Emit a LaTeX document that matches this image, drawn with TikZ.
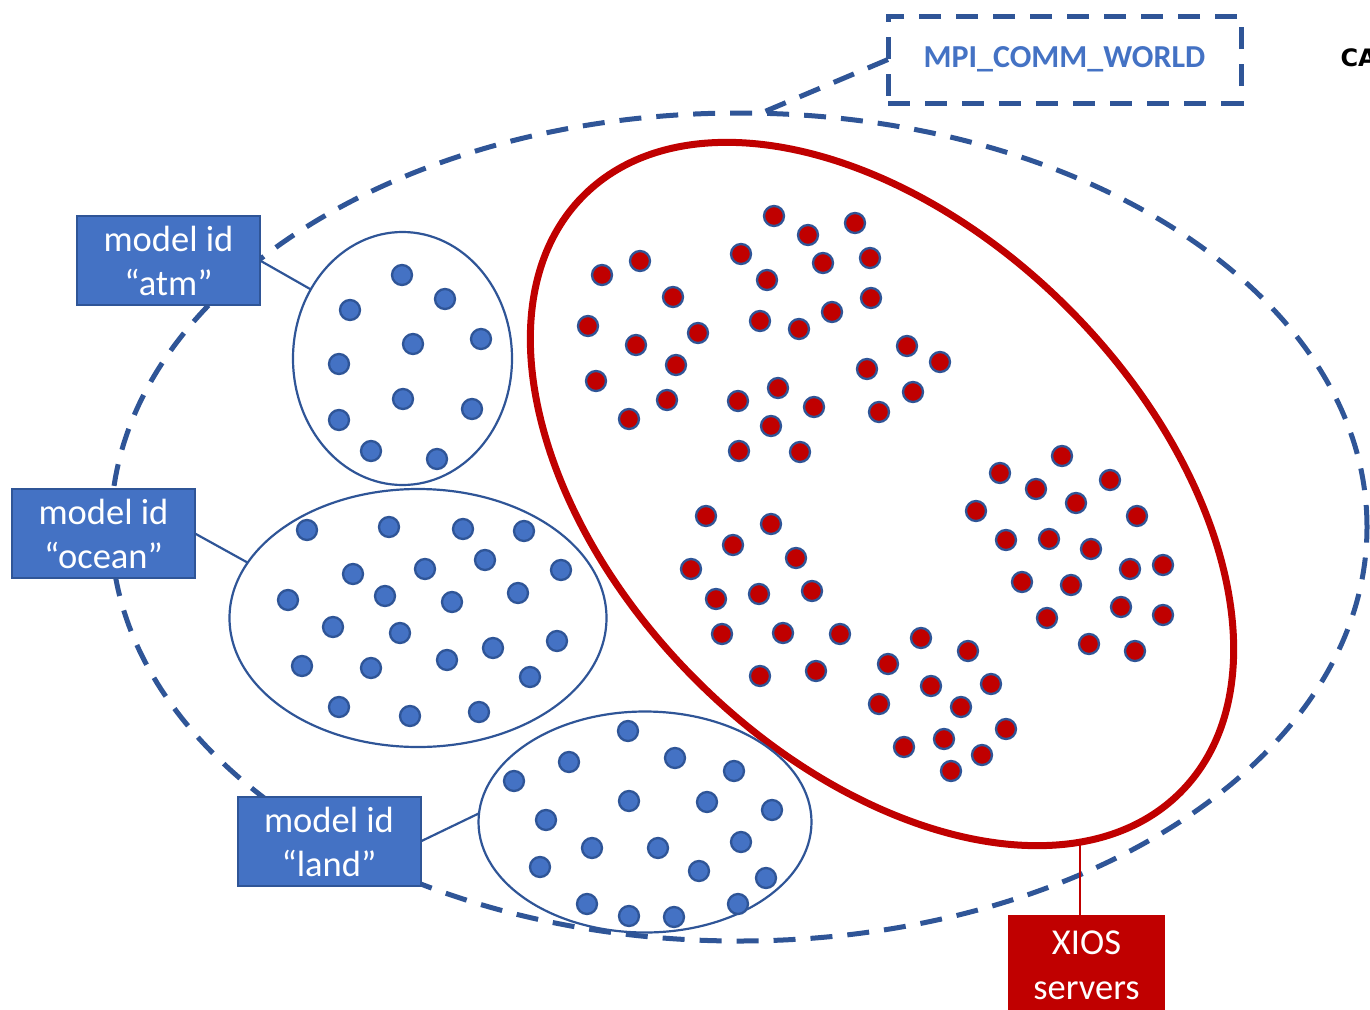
\documentclass[tikz,border=0pt]{standalone}
\usepackage{fontspec}
\setmainfont{Carlito}
\newfontfamily\capfont{DejaVu Sans}
\usetikzlibrary{shapes.geometric}

\definecolor{lineblue}{HTML}{2F5597}
\definecolor{fillblue}{HTML}{4472C4}
\definecolor{xiosred}{HTML}{C00000}

\tikzset{
  worldline/.style={draw=lineblue, line width=5pt, dash pattern=on 22pt off 15pt},
  world/.style={ellipse, worldline, inner sep=0pt, outer sep=0pt},
  group/.style={ellipse, draw=lineblue, line width=2.2pt, inner sep=0pt, outer sep=0pt},
  serverset/.style={ellipse, draw=xiosred, line width=7pt, inner sep=0pt, outer sep=0pt},
  idbox/.style={rectangle, fill=fillblue, draw=lineblue, line width=2pt, text=white,
    align=center, minimum width=183pt, minimum height=89pt, inner sep=0pt, outer sep=0pt,
    font=\fontsize{36.5}{44}\selectfont},
  xiosbox/.style={rectangle, fill=xiosred, text=white, align=center,
    minimum width=157pt, minimum height=100pt, inner sep=0pt, outer sep=0pt,
    font=\fontsize{36.5}{45}\selectfont},
  commbox/.style={rectangle, worldline, text=fillblue, minimum width=353pt,
    minimum height=87pt, inner sep=0pt, outer sep=0pt,
    font=\bfseries\fontsize{32}{38}\selectfont},
  link/.style={draw=lineblue, line width=2.2pt},
  xioslink/.style={draw=xiosred, line width=2pt},
  bluedot/.style={fill=fillblue, draw=lineblue, line width=2.3pt},
  reddot/.style={fill=xiosred, draw=lineblue, line width=2.3pt},
}

\begin{document}
\begin{tikzpicture}[x=1pt, y=-1pt]
\useasboundingbox (0,0) rectangle (1370,1009);

% whole communicator
\node[world, minimum width=1256pt, minimum height=828pt] (world) at (739,527) {};

% server pool
\node[serverset, rotate=-45, minimum width=844pt, minimum height=526pt] (servers) at (882,494) {};
\coordinate (serverfoot) at (1080,842);

% model groups
\node[group, minimum width=219pt, minimum height=253pt] (atmset) at (402.5,358.5) {};
\node[group, minimum width=377pt, minimum height=258pt] (oceanset) at (418,618) {};
\node[group, minimum width=333pt, minimum height=221pt] (landset) at (645,822) {};

% atmosphere processes
\foreach \p in {(402,275),(445,299),(350,310),(413,344),(481,339),(339,364),
                (403,399),(472,409),(339,420),(371,451),(437,459)}
  \draw[bluedot] \p circle[radius=10pt];

% ocean processes
\foreach \p in {(307,530),(389,527),(463,529),(524,531),(353,574),(425,569),
                (485,560),(561,570),(288,600),(385,596),(452,602),(518,593),
                (333,627),(400,633),(493,648),(557,641),(302,666),(371,668),
                (447,660),(530,677),(339,707),(410,716),(479,712)}
  \draw[bluedot] \p circle[radius=10pt];

% land processes
\foreach \p in {(628,731),(569,762),(675,758),(734,771),(514,781),(629,801),
                (707,802),(772,810),(546,820),(592,848),(658,848),(741,842),
                (540,867),(699,871),(766,878),(587,904),(629,916),(674,917),
                (738,904)}
  \draw[bluedot] \p circle[radius=10pt];

% server processes
\foreach \p in {(602,275),(640,261),(673,297),(588,326),(698,333),(636,345),
                (676,365),(596,381),(667,400),(629,419),
                (774,216),(808,235),(855,223),(741,254),(823,263),(870,258),
                (767,280),(871,298),(832,312),(760,321),(799,329),
                (907,346),(940,362),(867,369),(913,392),(879,412),
                (778,388),(738,401),(814,407),(771,426),(739,451),(800,452),
                (1062,456),(1000,473),(1110,480),(1036,489),(1076,503),(976,511),
                (1137,516),(1006,540),(1049,539),(1091,549),(1130,569),(1163,565),
                (1022,582),(1071,585),(1121,607),(1163,615),(1047,618),(1089,644),
                (1135,651),
                (706,516),(771,524),(733,545),(796,558),(691,569),(716,599),
                (759,594),(812,591),(722,634),(783,633),(840,634),(760,676),
                (816,671),
                (921,638),(968,651),(888,664),(931,686),(991,684),(879,704),
                (961,707),(1006,729),(944,739),(904,747),(982,755),(951,771)}
  \draw[reddot] \p circle[radius=10pt];

% labels
\node[idbox] (atm) at (168.5,260.5) {model id\\“atm”};
\node[idbox] (ocean) at (103.5,533.5) {model id\\“ocean”};
\node[idbox] (land) at (329,841.5) {model id\\“land”};
\node[xiosbox] (xios) at (1086.5,965) {XIOS\\servers};
\node[commbox] (comm) at (1064.5,59.5) {\raisebox{-3pt}{MPI\_COMM\_WORLD}};
\node[anchor=west, font=\capfont\bfseries\fontsize{24}{28}\selectfont] (cap) at (1337,58) {CA};

% connectors
\draw[link] (atm.east) -- (atmset.143.5);
\draw[link] (ocean.east) -- (oceanset.162);
\draw[link] (land.east) -- (landset.177);
\draw[xioslink] (serverfoot |- xios.north) -- (serverfoot);
\draw[worldline] (comm.west) -- (world.87.5);
\end{tikzpicture}
\end{document}
